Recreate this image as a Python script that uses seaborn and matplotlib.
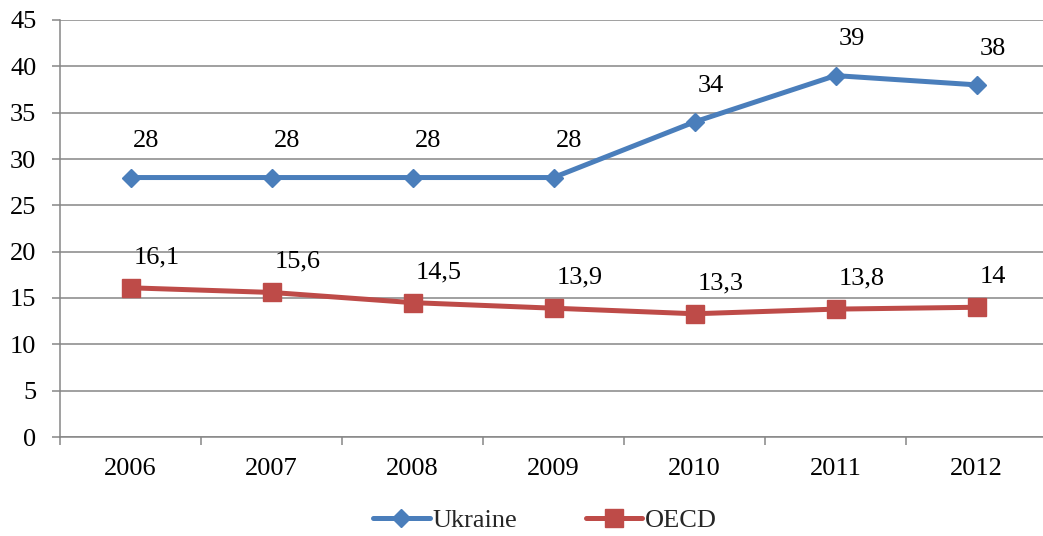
import pandas as pd
import matplotlib.pyplot as plt
import seaborn as sns
from matplotlib.ticker import FixedLocator

years = ['2006', '2007', '2008', '2009', '2010', '2011', '2012']
ukraine = [28, 28, 28, 28, 34, 39, 38]
oecd = [16.1, 15.6, 14.5, 13.9, 13.3, 13.8, 14.0]
series = ['Ukraine', 'OECD']

df = pd.DataFrame({
    'year': years * 2,
    'value': ukraine + oecd,
    'country': ['Ukraine'] * len(years) + ['OECD'] * len(years),
})

sns.set_theme(style='white')
plt.rcParams['font.family'] = ['Liberation Serif', 'DejaVu Serif']

blue = '#4A7EBB'
red = '#BE4B48'
grid_c = '#868686'
fs = 19

fig = plt.figure(figsize=(10.43, 5.36), dpi=100)
ax = fig.add_axes([60 / 1043, 1 - 437 / 536, 987 / 1043, 417 / 536])

sns.lineplot(data=df, x='year', y='value', hue='country', style='country',
             palette={'Ukraine': blue, 'OECD': red},
             markers={'Ukraine': 'D', 'OECD': 's'}, dashes=False,
             linewidth=3.6, markeredgewidth=1,
             legend=False, ax=ax)

# marker sizes differ per series
for line, ms in zip(ax.lines, [9, 12.5]):
    line.set_markersize(ms)
    line.set_markeredgecolor(line.get_color())

def fmt(v):
    return (f'{v:g}').replace('.', ',')

for i, v in enumerate(ukraine):
    ax.annotate(fmt(v), (i, v), xytext=(2, 26), textcoords='offset points',
                ha='left', va='center', fontsize=fs, color='black')
for i, v in enumerate(oecd):
    ax.annotate(fmt(v), (i, v), xytext=(2, 22), textcoords='offset points',
                ha='left', va='center', fontsize=fs, color='black')

ax.set_ylim(0, 45)
ax.set_xlim(-0.5, 6.5)
ax.set_yticks(range(0, 46, 5))
ax.yaxis.grid(True, color=grid_c, linewidth=1.1)
ax.set_axisbelow(True)
ax.set_xlabel('')
ax.set_ylabel('')

for s in ['top', 'right']:
    ax.spines[s].set_visible(False)
for s in ['left', 'bottom']:
    ax.spines[s].set_color(grid_c)
    ax.spines[s].set_linewidth(1.1)

ax.tick_params(axis='y', which='major', length=6, width=1.1, color=grid_c,
               pad=11, labelsize=fs, labelcolor='black', left=True)
ax.tick_params(axis='x', which='major', length=0, pad=15, labelsize=fs,
               labelcolor='black')
ax.xaxis.set_minor_locator(FixedLocator([i - 0.5 for i in range(len(years) + 1)]))
ax.tick_params(axis='x', which='minor', length=6, width=1.1, color=grid_c,
               bottom=True)

handles = [
    plt.Line2D([], [], color=blue, lw=3.6, marker='D', ms=9),
    plt.Line2D([], [], color=red, lw=3.6, marker='s', ms=12.5),
]
fig.legend(handles, series, loc='center', bbox_to_anchor=(545 / 1043, 16 / 536),
           ncol=2, frameon=False, fontsize=fs, handlelength=2.15,
           handletextpad=0.1, columnspacing=2.6)

fig.savefig('out.png', dpi=100)
